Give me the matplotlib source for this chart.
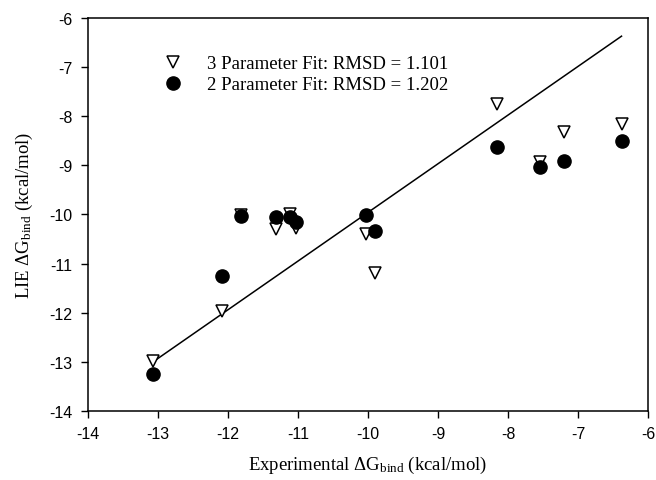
import matplotlib
matplotlib.use("Agg")
import matplotlib.pyplot as plt

plt.rcParams['mathtext.fontset'] = 'custom'
plt.rcParams['mathtext.rm'] = 'Liberation Serif'
plt.rcParams['mathtext.it'] = 'Liberation Serif:italic'
plt.rcParams['axes.unicode_minus'] = False

# experimental dG (x) shared by both fits
exp_dg = [-13.07, -12.08, -11.82, -11.31, -11.12, -11.03, -10.03, -9.90, -8.16, -7.55, -7.20, -6.38]
lie_3par = [-12.99, -11.97, -10.01, -10.30, -9.99, -10.28, -10.39, -11.19, -7.76, -8.93, -8.33, -8.16]
lie_2par = [-13.25, -11.25, -10.04, -10.06, -10.05, -10.15, -10.01, -10.33, -8.63, -9.04, -8.91, -8.50]
line_x = [-13.07, -6.38]
line_y = [-13.0, -6.37]
ticks = [-14, -13, -12, -11, -10, -9, -8, -7, -6]

fig = plt.figure(figsize=(6.56, 4.81), dpi=100)
ax = fig.add_axes([0.134, 0.1435, 0.854, 0.817])

ax.plot(line_x, line_y, color='black', lw=1.1, zorder=1)
ax.plot(exp_dg, lie_3par, ls='none', marker='v', ms=9, mfc='white', mec='black', mew=1.1,
        label='3 Parameter Fit: RMSD = 1.101', zorder=2)
ax.plot(exp_dg, lie_2par, ls='none', marker='o', ms=9.5, mfc='black', mec='black',
        label='2 Parameter Fit: RMSD = 1.202', zorder=3)

ax.set_xlim(-14, -6)
ax.set_ylim(-14, -6)
ax.set_xticks(ticks)
ax.set_yticks(ticks)
ax.tick_params(direction='out', length=5, width=1, labelsize=11.5, pad=6)
for lab in ax.get_xticklabels() + ax.get_yticklabels():
    lab.set_family('Liberation Sans')
for sp in ax.spines.values():
    sp.set_linewidth(1.1)

ax.set_xlabel(r'Experimental $\Delta\mathrm{G}_{\mathrm{bind}}$ (kcal/mol)',
              family='Liberation Serif', fontsize=13.5, labelpad=9)
ax.set_ylabel(r'LIE $\Delta\mathrm{G}_{\mathrm{bind}}$ (kcal/mol)',
              family='Liberation Serif', fontsize=13.5, labelpad=10)

ax.legend(loc='upper left', bbox_to_anchor=(0.135, 0.905), frameon=False,
          prop={'family': 'Liberation Serif', 'size': 13.5},
          handlelength=1.0, handletextpad=1.3, labelspacing=0.2,
          borderpad=0, borderaxespad=0)

fig.savefig('out.png', dpi=100)
